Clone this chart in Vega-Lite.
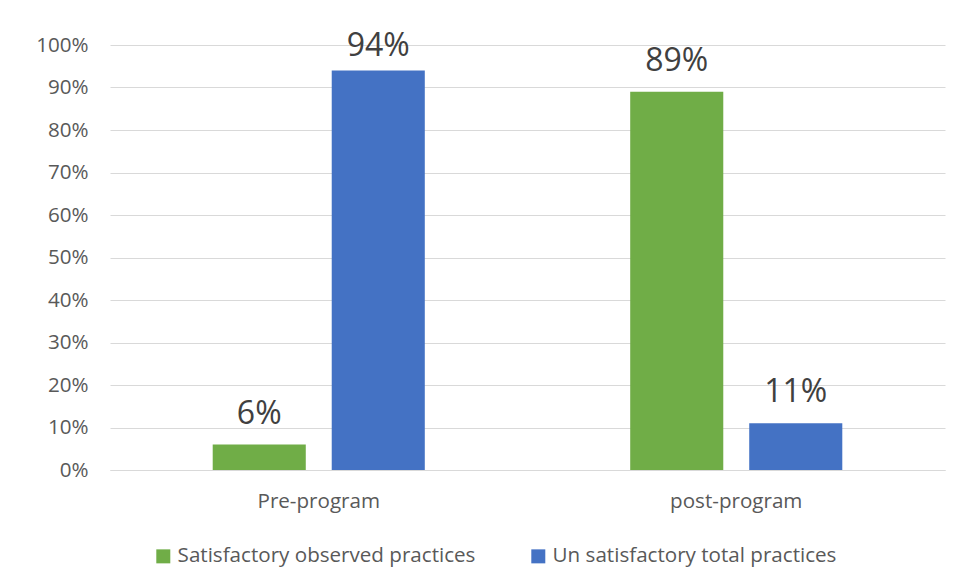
{
  "$schema": "https://vega.github.io/schema/vega-lite/v6.json",
  "autosize": {"type": "none"},
  "width": 835,
  "height": 425,
  "padding": {"left": 110, "top": 45, "right": 15, "bottom": 113},
  "background": "white",
  "config": {
    "font": "Open Sans",
    "view": {"stroke": null},
    "axis": {"labelFont": "Open Sans", "labelColor": "#595959", "labelFontSize": 20.6}
  },
  "data": {
    "values": [
      {"phase": "Pre-program", "practice": "Satisfactory observed practices", "share": 0.06},
      {"phase": "Pre-program", "practice": "Un satisfactory total practices", "share": 0.94},
      {"phase": "post-program", "practice": "Satisfactory observed practices", "share": 0.89},
      {"phase": "post-program", "practice": "Un satisfactory total practices", "share": 0.11}
    ]
  },
  "encoding": {
    "x": {
      "field": "phase",
      "type": "nominal",
      "sort": ["Pre-program", "post-program"],
      "scale": {"paddingInner": 0.492, "paddingOuter": 0.246},
      "axis": {
        "title": null,
        "labelAngle": 0,
        "ticks": false,
        "domain": true,
        "domainColor": "#d9d9d9",
        "domainWidth": 1,
        "labelPadding": 21
      }
    },
    "xOffset": {
      "field": "practice",
      "type": "nominal",
      "sort": ["Satisfactory observed practices", "Un satisfactory total practices"],
      "scale": {"paddingInner": 0.218, "paddingOuter": 0}
    },
    "y": {
      "field": "share",
      "type": "quantitative",
      "scale": {"domain": [0, 1], "nice": false},
      "axis": {
        "title": null,
        "values": [0, 0.1, 0.2, 0.3, 0.4, 0.5, 0.6, 0.7, 0.8, 0.9, 1],
        "format": ".0%",
        "grid": true,
        "gridColor": "#d9d9d9",
        "gridWidth": 1,
        "domain": false,
        "ticks": false,
        "labelPadding": 22
      }
    }
  },
  "layer": [
    {
      "mark": {"type": "bar"},
      "encoding": {
        "color": {
          "field": "practice",
          "type": "nominal",
          "sort": ["Satisfactory observed practices", "Un satisfactory total practices"],
          "scale": {"range": ["#70ad47", "#4472c4"]},
          "legend": {
            "title": null,
            "orient": "none",
            "direction": "horizontal",
            "legendX": 43,
            "legendY": 501,
            "symbolType": "square",
            "symbolSize": 196,
            "symbolStrokeWidth": 0,
            "labelFont": "Open Sans",
            "labelFontSize": 20.6,
            "labelColor": "#595959",
            "labelOffset": 4,
            "columnPadding": 52,
            "labelLimit": 400
          }
        }
      }
    },
    {
      "transform": [{"filter": "datum.share > 0.9"}],
      "mark": {"type": "text", "baseline": "alphabetic", "dy": -15, "fontSize": 32, "color": "#404040"},
      "encoding": {"text": {"field": "share", "type": "quantitative", "format": ".0%"}}
    },
    {
      "transform": [{"filter": "datum.share <= 0.9"}],
      "mark": {"type": "text", "baseline": "alphabetic", "dy": -21, "fontSize": 32, "color": "#404040"},
      "encoding": {"text": {"field": "share", "type": "quantitative", "format": ".0%"}}
    }
  ]
}
